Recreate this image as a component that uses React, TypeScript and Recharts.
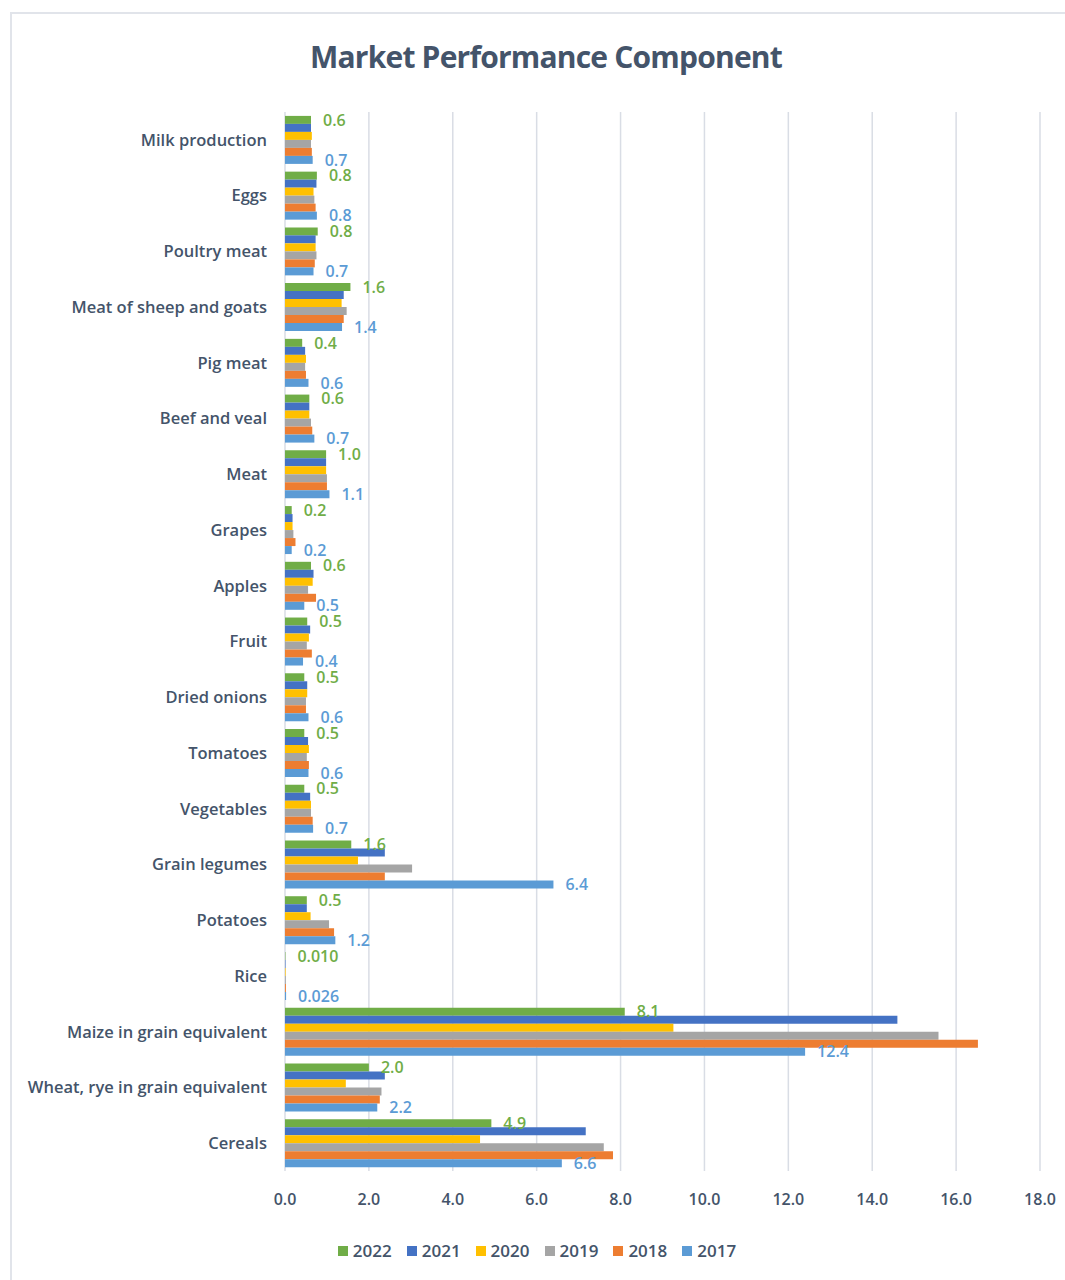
import React from "react";
import {
  BarChart,
  Bar,
  XAxis,
  YAxis,
  CartesianGrid,
  Legend,
  LabelList,
} from "recharts";

const categories = [
  "Milk production",
  "Eggs",
  "Poultry meat",
  "Meat of sheep and goats",
  "Pig meat",
  "Beef and veal",
  "Meat",
  "Grapes",
  "Apples",
  "Fruit",
  "Dried onions",
  "Tomatoes",
  "Vegetables",
  "Grain legumes",
  "Potatoes",
  "Rice",
  "Maize in grain equivalent",
  "Wheat, rye in grain equivalent",
  "Cereals",
];

const y2022 = [0.62, 0.76, 0.78, 1.56, 0.41, 0.58, 0.98, 0.16, 0.62, 0.53, 0.46, 0.46, 0.46, 1.58, 0.52, 0.01, 8.1, 2.0, 4.92];
const y2021 = [0.62, 0.75, 0.73, 1.4, 0.48, 0.58, 0.98, 0.18, 0.68, 0.6, 0.53, 0.55, 0.6, 2.38, 0.52, 0.012, 14.6, 2.38, 7.17];
const y2020 = [0.64, 0.68, 0.73, 1.35, 0.5, 0.58, 0.98, 0.18, 0.66, 0.57, 0.53, 0.57, 0.62, 1.74, 0.61, 0.015, 9.26, 1.45, 4.65];
const y2019 = [0.62, 0.7, 0.75, 1.47, 0.48, 0.62, 1.0, 0.2, 0.55, 0.52, 0.5, 0.52, 0.62, 3.03, 1.05, 0.02, 15.58, 2.3, 7.6];
const y2018 = [0.64, 0.73, 0.71, 1.4, 0.5, 0.65, 1.0, 0.25, 0.74, 0.64, 0.5, 0.57, 0.66, 2.38, 1.17, 0.022, 16.52, 2.26, 7.82];
const y2017 = [0.66, 0.76, 0.68, 1.36, 0.56, 0.7, 1.06, 0.16, 0.46, 0.43, 0.56, 0.56, 0.67, 6.4, 1.2, 0.026, 12.4, 2.2, 6.6];

const xTicks = [0, 2, 4, 6, 8, 10, 12, 14, 16, 18];

const series = [
  { key: "y2022", label: "2022", color: "#70AD47", values: y2022, labelled: true },
  { key: "y2021", label: "2021", color: "#4472C4", values: y2021, labelled: false },
  { key: "y2020", label: "2020", color: "#FFC000", values: y2020, labelled: false },
  { key: "y2019", label: "2019", color: "#A5A5A5", values: y2019, labelled: false },
  { key: "y2018", label: "2018", color: "#ED7D31", values: y2018, labelled: false },
  { key: "y2017", label: "2017", color: "#5B9BD5", values: y2017, labelled: true },
];

const data = categories.map((name, i) => {
  const row: Record<string, string | number> = { name };
  series.forEach((s) => {
    row[s.key] = s.values[i];
  });
  return row;
});

const FONT = "'Open Sans', 'DejaVu Sans', sans-serif";
const TEXT = "#44546A";

const fmtLabel = (v: unknown) => {
  const n = Number(v);
  return n < 0.1 ? n.toFixed(3) : n.toFixed(1);
};

function LegendRow() {
  return (
    <div
      style={{
        display: "flex",
        justifyContent: "center",
        gap: 15,
        paddingLeft: 34,
        fontFamily: FONT,
        fontSize: 17,
        fontWeight: 600,
        color: TEXT,
      }}
    >
      {series.map((s) => (
        <span key={s.key} style={{ display: "flex", alignItems: "center", gap: 5 }}>
          <span style={{ width: 10, height: 10, background: s.color, display: "inline-block" }} />
          {s.label}
        </span>
      ))}
    </div>
  );
}

export default function App() {
  return (
    <div
      style={{
        position: "absolute",
        left: 0,
        top: 0,
        width: 1065,
        height: 1280,
        background: "#fff",
        overflow: "hidden",
        fontFamily: FONT,
      }}
    >
      <div
        style={{
          position: "absolute",
          left: 10,
          top: 12,
          width: 1080,
          height: 1300,
          border: "2px solid #e1e4ea",
        }}
      />
      <div
        style={{
          position: "absolute",
          left: 0,
          top: 36,
          width: 1092,
          textAlign: "center",
          fontSize: 30,
          fontWeight: 700,
          color: TEXT,
          letterSpacing: -0.8,
        }}
      >
        Market Performance Component
      </div>
      <div style={{ position: "absolute", left: 0, top: 0 }}>
        <BarChart
          width={1065}
          height={1280}
          data={data}
          layout="vertical"
          margin={{ top: 112, right: 25, bottom: 18, left: 0 }}
          barCategoryGap="7%"
          barGap={0}
        >
          <CartesianGrid horizontal={false} stroke="#d9dde5" strokeWidth={1.5} />
          <XAxis
            type="number"
            domain={[0, 18]}
            ticks={xTicks}
            tickFormatter={(v: number) => v.toFixed(1)}
            axisLine={false}
            tickLine={false}
            tickMargin={17}
            height={68}
            tick={{ fontSize: 16, fill: TEXT, fontFamily: FONT, fontWeight: 600 }}
          />
          <YAxis
            type="category"
            dataKey="name"
            width={285}
            axisLine={false}
            tickLine={false}
            tickMargin={12}
            interval={0}
            tick={{ fontSize: 16.5, fill: TEXT, fontFamily: FONT, fontWeight: 600 }}
          />
          <Legend verticalAlign="bottom" content={() => <LegendRow />} />
          {series.map((s) => (
            <Bar
              key={s.key}
              dataKey={s.key}
              name={s.label}
              fill={s.color}
              isAnimationActive={false}
            >
              {s.labelled && (
                <LabelList
                  dataKey={s.key}
                  position="right"
                  offset={12}
                  formatter={fmtLabel}
                  style={{ fill: s.color, fontSize: 16, fontWeight: 600, fontFamily: FONT }}
                />
              )}
            </Bar>
          ))}
        </BarChart>
      </div>
    </div>
  );
}
